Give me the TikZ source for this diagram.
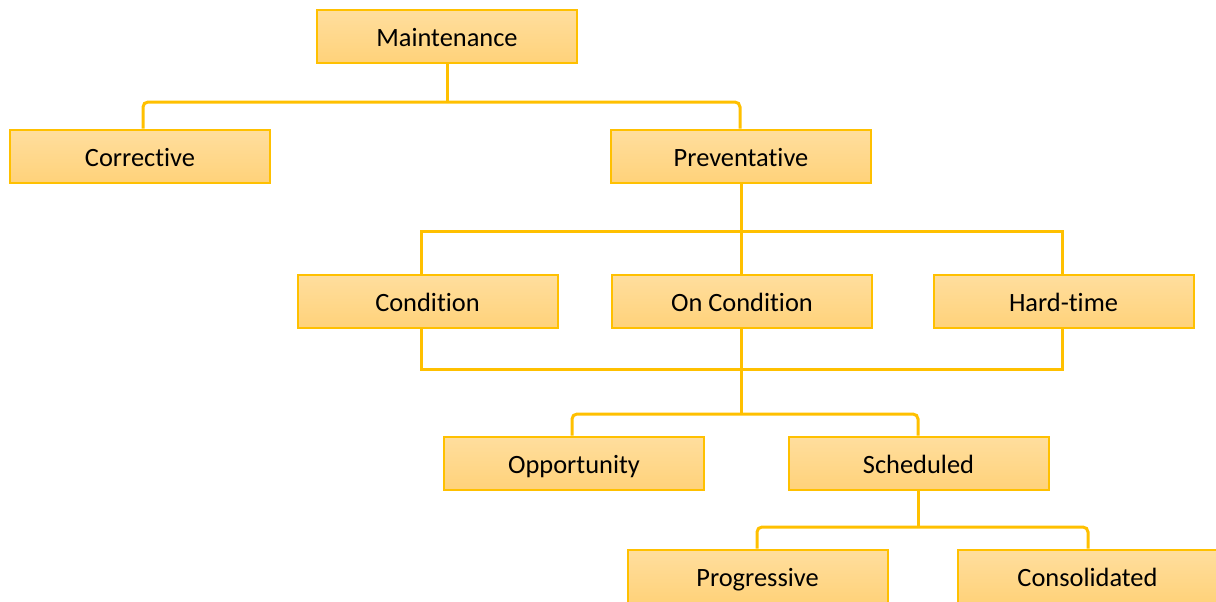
\documentclass[tikz,border=0pt]{standalone}
\usepackage{fontspec}
\setmainfont{Carlito}[Ligatures=NoCommon]
\definecolor{mgold}{RGB}{255,192,0}
\definecolor{boxtop}{RGB}{255,222,158}
\definecolor{boxbot}{RGB}{255,210,122}
\usetikzlibrary{arrows.meta,positioning}

\begin{document}
\begin{tikzpicture}[x=0.5pt,y=-0.5pt,
    kind/.style={draw=mgold,line width=1pt,top color=boxtop,bottom color=boxbot,
      minimum width=130pt,minimum height=26.5pt,inner sep=0pt,text height=13pt,text depth=3pt,
      font=\fontsize{13.2}{15}\selectfont},
    link/.style={draw=mgold,line width=1.5pt},
    softlink/.style={link,rounded corners=2.5pt}]
        \useasboundingbox (0,0) rectangle (1216,601);
        % boxes
        \node[kind] (maint) at (447,36) {Maintenance};
        \node[kind] (corr) at (140,156) {Corrective};
        \node[kind] (prev) at (741,156) {Preventative};
        \node[kind] (cond) at (427.5,301) {Condition};
        \node[kind] (oncond) at (742,301) {On Condition};
        \node[kind] (hard) at (1063.5,301) {Hard-time};
        \node[kind] (opp) at (574,463) {Opportunity};
        \node[kind] (sched) at (918.5,463) {Scheduled};
        \node[kind] (prog) at (757.5,576) {Progressive};
        \node[kind] (cons) at (1087.5,576) {Consolidated};
        % links
        \draw[link] (maint.south) -- (maint.south |- 0,102);
        \draw[softlink] (corr.north -| 143,0) |- (740,102) -- (prev.north -| 740,0);
        \draw[link] (prev.south) -- (prev.south |- 0,231);
        \draw[link] (cond.north -| 421,0) |- (1062,231) -- (hard.north -| 1062,0);
        \draw[link] (prev.south |- 0,231) -- (oncond.north -| 741,0);
        \draw[link] (cond.south -| 421,0) |- (1062,369) -- (hard.south -| 1062,0);
        \draw[link] (oncond.south -| 741,0) -- (741,414);
        \draw[softlink] (opp.north -| 572,0) |- (918,414) -- (sched.north -| 918,0);
        \draw[link] (sched.south -| 918,0) -- (918,527);
        \draw[softlink] (prog.north -| 757,0) |- (1088,527) -- (cons.north -| 1088,0);
      \end{tikzpicture}
\end{document}
